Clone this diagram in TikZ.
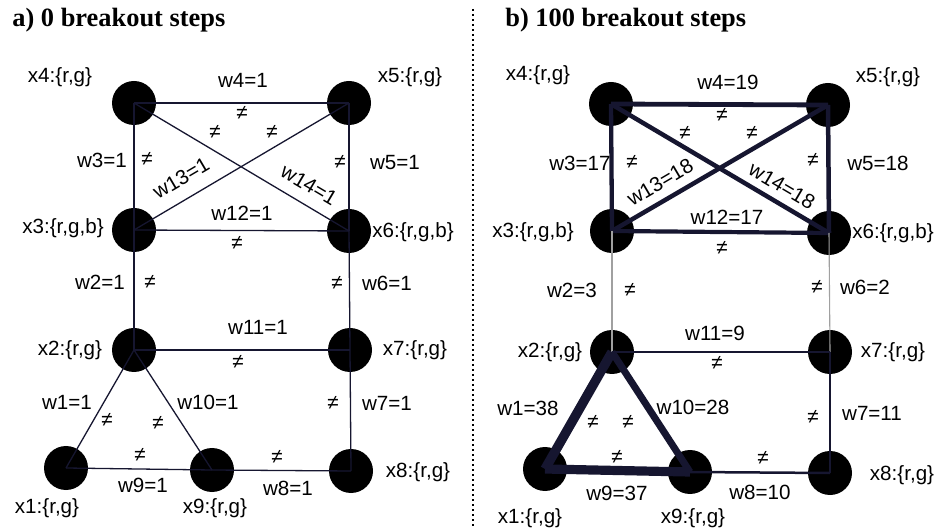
\documentclass[tikz,border=0pt]{standalone}
\usepackage{fontspec}
\setmainfont{Liberation Sans}
\newfontfamily\titlefont{Liberation Serif}
\definecolor{navy}{RGB}{22,22,48}
\definecolor{lgray}{RGB}{160,160,160}
\begin{document}
\begin{tikzpicture}[x=0.5pt,y=-0.5pt,
  vtx/.style={circle,fill=black,minimum size=22pt,inner sep=0},
  lbl/.style={inner sep=0,font=\fontsize{10.3}{12}\selectfont},
  ttl/.style={inner sep=0,anchor=base west,font=\fontsize{13.2}{16}\selectfont\titlefont\bfseries},
  edge/.style={draw=navy,line width=0.65pt},
  sep/.style={draw=black,line width=1pt,dash pattern=on 1pt off 1.5pt},
]
\useasboundingbox (0,0) rectangle (941,528);

% ---------------- panel a ----------------
\node[ttl] (ta) at (12,27) {a) 0 breakout steps};

\node[vtx] (a4) at (134,103) {};
\node[vtx] (a5) at (349,103) {};
\node[vtx] (a3) at (134,230) {};
\node[vtx] (a6) at (349,231) {};
\node[vtx] (a2) at (134,350) {};
\node[vtx] (a7) at (350,350) {};
\node[vtx] (a1) at (66,468) {};
\node[vtx] (a9) at (212,470) {};
\node[vtx] (a8) at (351,471) {};

\draw[edge] (a4.center) -- (a5.center);
\draw[edge] (a4.center) -- (a3.center);
\draw[edge] (a5.center) -- (a6.center);
\draw[edge] (a4.center) -- (a6.center);
\draw[edge] (a3.center) -- (a5.center);
\draw[edge] (a3.center) -- (a6.center);
\draw[edge] (a3.center) -- (a2.center);
\draw[edge] (a6.center) -- (a7.center);
\draw[edge] (a2.center) -- (a7.center);
\draw[edge] (a7.center) -- (a8.center);
\draw[edge] (a2.center) -- (a1.center);
\draw[edge] (a2.center) -- (a9.center);
\draw[edge] (a1.center) -- (a9.center);
\draw[edge] (a9.center) -- (a8.center);

\node[lbl] (la4) at (60,77) {x4:\{r,g\}};
\node[lbl] (la5) at (410,77) {x5:\{r,g\}};
\node[lbl] (la3) at (63,228) {x3:\{r,g,b\}};
\node[lbl] (la6) at (413,232) {x6:\{r,g,b\}};
\node[lbl] (la2) at (70,350) {x2:\{r,g\}};
\node[lbl] (la7) at (415,350) {x7:\{r,g\}};
\node[lbl] (la8) at (418,472) {x8:\{r,g\}};
\node[lbl] (la1) at (47,508) {x1:\{r,g\}};
\node[lbl] (la9) at (215,508) {x9:\{r,g\}};

\node[lbl] (wa4) at (243,80) {w4=1};
\node[lbl] (na4) at (242,113) {≠};
\node[lbl] (na14) at (215,132) {≠};
\node[lbl] (na13) at (272,132) {≠};
\node[lbl] (wa3) at (102,160) {w3=1};
\node[lbl] (na3) at (147,159) {≠};
\node[lbl] (na5) at (340,162) {≠};
\node[lbl] (wa5) at (395,163) {w5=1};
\node[lbl,rotate=30.5] (wa13) at (181,178) {w13=1};
\node[lbl,rotate=-30.6] (wa14) at (309,185) {w14=1};
\node[lbl] (wa12) at (242,213) {w12=1};
\node[lbl] (na12) at (237,243) {≠};
\node[lbl] (wa2) at (100,282) {w2=1};
\node[lbl] (na2) at (150,282) {≠};
\node[lbl] (na6) at (337,283) {≠};
\node[lbl] (wa6) at (387,283) {w6=1};
\node[lbl] (wa11) at (258,327) {w11=1};
\node[lbl] (na11) at (238,362) {≠};
\node[lbl] (wa1) at (67,402) {w1=1};
\node[lbl] (na1) at (107,420) {≠};
\node[lbl] (na10) at (158,423) {≠};
\node[lbl] (wa10) at (208,402) {w10=1};
\node[lbl] (na7) at (333,403) {≠};
\node[lbl] (wa7) at (387,403) {w7=1};
\node[lbl] (na9) at (140,455) {≠};
\node[lbl] (wa9) at (143,485) {w9=1};
\node[lbl] (na8) at (277,457) {≠};
\node[lbl] (wa8) at (288,488) {w8=1};

% ---------------- separator ----------------
\coordinate (sepT) at (473,9);
\coordinate (sepB) at (473,528);
\draw[sep] (sepT) -- (sepB);

% ---------------- panel b ----------------
\node[ttl] (tb) at (505,27) {b) 100 breakout steps};

\node[vtx] (b4) at (611,104) {};
\node[vtx] (b5) at (828,105) {};
\node[vtx] (b3) at (612,231) {};
\node[vtx] (b6) at (829,233) {};
\node[vtx] (b2) at (612,352) {};
\node[vtx] (b7) at (830,352) {};
\node[vtx] (b1) at (545,469) {};
\node[vtx] (b9) at (690,472) {};
\node[vtx] (b8) at (830,473) {};

\draw[edge,line width=2.4pt] (b4.center) -- (b5.center);
\draw[edge,line width=2.15pt] (b4.center) -- (b3.center);
\draw[edge,line width=2.25pt] (b5.center) -- (b6.center);
\draw[edge,line width=2.25pt] (b4.center) -- (b6.center);
\draw[edge,line width=2.25pt] (b3.center) -- (b5.center);
\draw[edge,line width=2.1pt] (b3.center) -- (b6.center);
\draw[draw=lgray,line width=0.55pt] (b3.center) -- (b2.center);
\draw[draw=lgray,line width=0.55pt] (b6.center) -- (b7.center);
\draw[edge,line width=1.1pt] (b2.center) -- (b7.center);
\draw[edge,line width=1.35pt] (b7.center) -- (b8.center);
\draw[edge,line width=4.75pt] (b2.center) -- (b1.center);
\draw[edge,line width=3.5pt] (b2.center) -- (b9.center);
\draw[edge,line width=4.6pt] (b1.center) -- (b9.center);
\draw[edge,line width=1.25pt] (b9.center) -- (b8.center);

\node[lbl] (lb4) at (538,75) {x4:\{r,g\}};
\node[lbl] (lb5) at (888,77) {x5:\{r,g\}};
\node[lbl] (lb3) at (533,232) {x3:\{r,g,b\}};
\node[lbl] (lb6) at (893,233) {x6:\{r,g,b\}};
\node[lbl] (lb2) at (550,352) {x2:\{r,g\}};
\node[lbl] (lb7) at (893,352) {x7:\{r,g\}};
\node[lbl] (lb8) at (902,475) {x8:\{r,g\}};
\node[lbl] (lb1) at (530,518) {x1:\{r,g\}};
\node[lbl] (lb9) at (693,518) {x9:\{r,g\}};

\node[lbl] (wb4) at (728,82) {w4=19};
\node[lbl] (nb4) at (722,115) {≠};
\node[lbl] (nb14) at (685,133) {≠};
\node[lbl] (nb13) at (752,133) {≠};
\node[lbl] (wb3) at (580,163) {w3=17};
\node[lbl] (nb3) at (632,162) {≠};
\node[lbl] (nb5) at (813,160) {≠};
\node[lbl] (wb5) at (878,163) {w5=18};
\node[lbl,rotate=30.5] (wb13) at (660,182) {w13=18};
\node[lbl,rotate=-30.6] (wb14) at (782,186) {w14=18};
\node[lbl] (wb12) at (727,217) {w12=17};
\node[lbl] (nb12) at (722,248) {≠};
\node[lbl] (wb2) at (572,290) {w2=3};
\node[lbl] (nb2) at (630,290) {≠};
\node[lbl] (nb6) at (817,287) {≠};
\node[lbl] (wb6) at (865,287) {w6=2};
\node[lbl] (wb11) at (715,333) {w11=9};
\node[lbl] (nb11) at (717,363) {≠};
\node[lbl] (wb1) at (528,408) {w1=38};
\node[lbl] (nb1) at (593,422) {≠};
\node[lbl] (nb10) at (628,422) {≠};
\node[lbl] (wb10) at (693,407) {w10=28};
\node[lbl] (nb7) at (813,417) {≠};
\node[lbl] (wb7) at (872,413) {w7=11};
\node[lbl] (nb9) at (617,457) {≠};
\node[lbl] (wb9) at (617,493) {w9=37};
\node[lbl] (nb8) at (763,458) {≠};
\node[lbl] (wb8) at (760,492) {w8=10};
\end{tikzpicture}
\end{document}
